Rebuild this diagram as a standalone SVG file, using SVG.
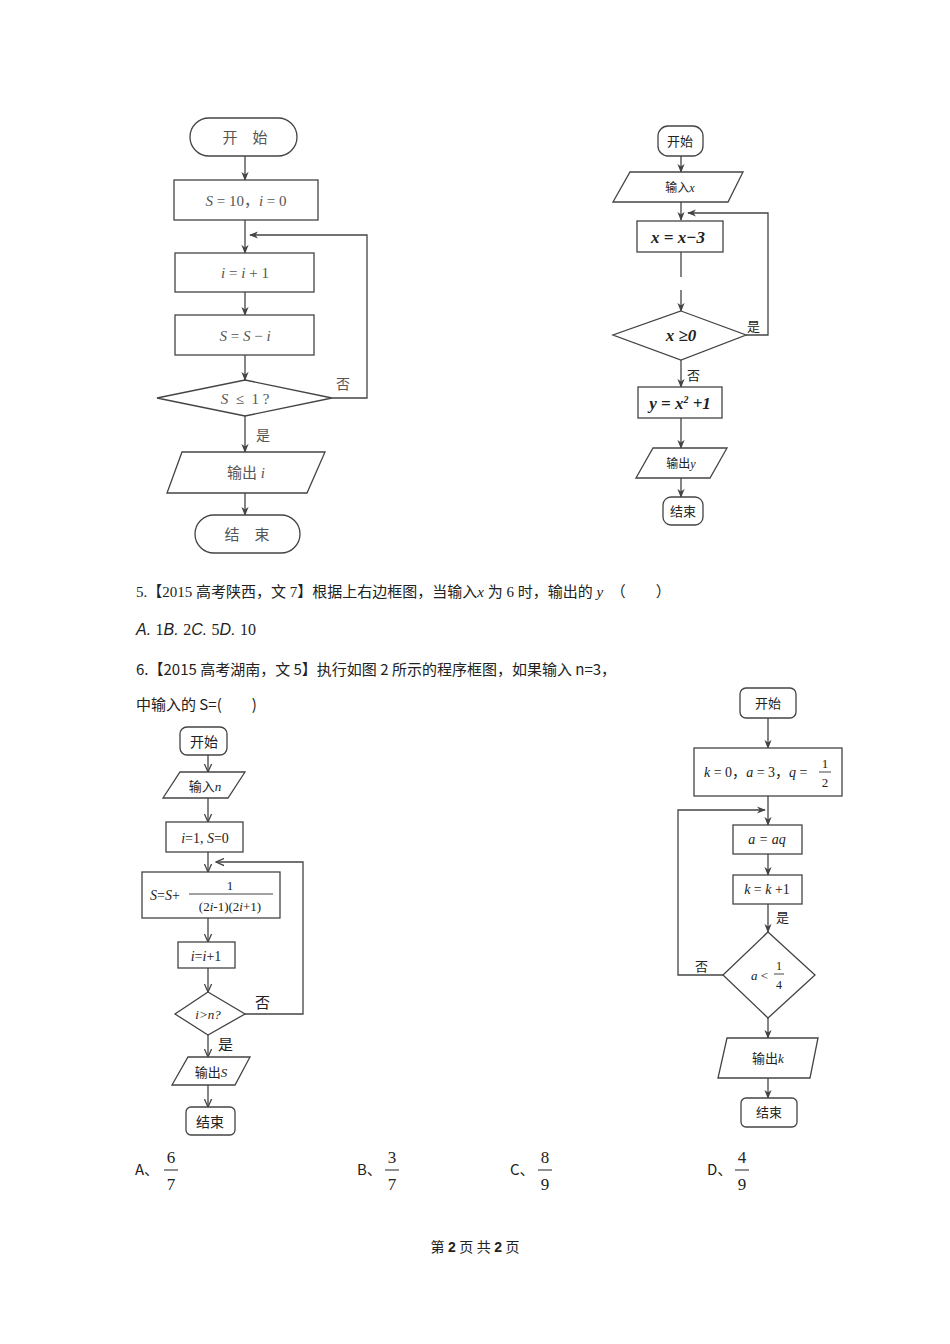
<svg xmlns="http://www.w3.org/2000/svg" width="950" height="1344" viewBox="0 0 950 1344">
<style>
.s{fill:#fff;stroke:#444;stroke-width:1.3}
.c{fill:none;stroke:#444;stroke-width:1.3}
text{font-family:"Liberation Serif","Noto Sans CJK SC",serif;fill:#222}
.k{font-family:"Noto Sans CJK SC",sans-serif}
.g{fill:#555}
.m{font-style:italic}
.b{font-weight:bold}
.t{text-anchor:middle}
</style>
<defs>
<marker id="a" viewBox="0 0 10 10" refX="9" refY="5" markerWidth="9" markerHeight="9" orient="auto" markerUnits="userSpaceOnUse"><path d="M0,1 L10,5 L0,9 L3,5 Z" fill="#444"/></marker>
<marker id="v" viewBox="0 0 10 10" refX="9" refY="5" markerWidth="9" markerHeight="9" orient="auto" markerUnits="userSpaceOnUse"><path d="M0,1 L9,5 L0,9" fill="none" stroke="#444" stroke-width="1.4"/></marker>
</defs>

<g id="connectors">
<path class="c" marker-end="url(#a)" d="M245,156V180"/>
<path class="c" marker-end="url(#a)" d="M245,220V253"/>
<path class="c" marker-end="url(#a)" d="M245,292V315"/>
<path class="c" marker-end="url(#a)" d="M245,355V380"/>
<path class="c" marker-end="url(#a)" d="M332,398H367V235H250"/>
<path class="c" marker-end="url(#a)" d="M245,416V452"/>
<path class="c" marker-end="url(#a)" d="M245,493V515"/>

<path class="c" marker-end="url(#a)" d="M681,156V172"/>
<path class="c" marker-end="url(#a)" d="M681,202V220"/>
<path class="c" marker-end="url(#a)" d="M746,335H768V213H688"/>
<path class="c" d="M681,252V277"/>
<path class="c" marker-end="url(#a)" d="M681,290V311"/>
<path class="c" marker-end="url(#a)" d="M681,360V387"/>
<path class="c" marker-end="url(#a)" d="M681,418V448"/>
<path class="c" marker-end="url(#a)" d="M681,478V497"/>

<path class="c" marker-end="url(#v)" d="M208,755V772"/>
<path class="c" marker-end="url(#v)" d="M208,798V822"/>
<path class="c" marker-end="url(#v)" d="M208,852V872"/>
<path class="c" marker-end="url(#v)" d="M245,1014H303V862H216"/>
<path class="c" marker-end="url(#v)" d="M208,918V942"/>
<path class="c" marker-end="url(#v)" d="M208,968V992"/>
<path class="c" marker-end="url(#v)" d="M208,1035V1057"/>
<path class="c" marker-end="url(#v)" d="M208,1085V1107"/>

<path class="c" marker-end="url(#a)" d="M768,718V748"/>
<path class="c" marker-end="url(#a)" d="M768,796V825"/>
<path class="c" marker-end="url(#a)" d="M723,975H678V810H765"/>
<path class="c" marker-end="url(#a)" d="M768,854V875"/>
<path class="c" marker-end="url(#a)" d="M768,904V932"/>
<path class="c" marker-end="url(#a)" d="M768,1018V1038"/>
<path class="c" marker-end="url(#a)" d="M768,1078V1098"/>
</g>

<g id="c1-start"><rect class="s" x="190" y="118" width="107" height="38" rx="19"/><text class="t g" x="245" y="143" font-size="15">开　始</text></g>
<g id="c1-init"><rect class="s" x="174" y="180" width="144" height="40"/><text class="t g" x="246" y="206" font-size="15"><tspan class="m">S</tspan> = 10，<tspan class="m">i</tspan> = 0</text></g>
<g id="c1-inc"><rect class="s" x="175" y="253" width="139" height="39"/><text class="t g" x="245" y="278" font-size="15"><tspan class="m">i</tspan> = <tspan class="m">i</tspan> + 1</text></g>
<g id="c1-sub"><rect class="s" x="175" y="315" width="139" height="40"/><text class="t g" x="245" y="341" font-size="15"><tspan class="m">S</tspan> = <tspan class="m">S</tspan> − <tspan class="m">i</tspan></text></g>
<g id="c1-cond"><polygon class="s" points="245,380 332,398 245,416 157,398"/><text class="t g" x="245" y="404" font-size="15"><tspan class="m">S</tspan>&#160;&#160;≤&#160;&#160;1&#160;?</text><text class="g" x="336" y="389" font-size="14">否</text></g>
<text class="g" x="256" y="440" font-size="14">是</text>
<g id="c1-out"><polygon class="s" points="182,452 325,452 307,493 167,493"/><text class="t g" x="246" y="478" font-size="15">输出&#160;<tspan class="m">i</tspan></text></g>
<g id="c1-end"><rect class="s" x="195" y="515" width="105" height="38" rx="19"/><text class="t g" x="247" y="540" font-size="15">结　束</text></g>

<g id="c2-start"><rect class="s" x="658" y="126" width="45" height="30" rx="10"/><text class="t k" x="680" y="146" font-size="13">开始</text></g>
<g id="c2-in"><polygon class="s" points="630,172 743,172 728,202 613,202"/><text class="t k" x="680" y="192" font-size="12">输入<tspan class="m" font-family="Liberation Serif">x</tspan></text></g>
<g id="c2-sub"><rect class="s" x="637" y="221" width="86" height="31"/><text class="t b m" x="678" y="243" font-size="17">x = x−3</text></g>
<g id="c2-cond"><polygon class="s" points="681,311 746,335 681,360 613,335"/><text class="t b m" x="681" y="341" font-size="17">x ≥0</text><text class="k" x="747" y="331" font-size="13">是</text></g>
<text class="k" x="687" y="380" font-size="13">否</text>
<g id="c2-y"><rect class="s" x="638" y="387" width="84" height="31"/><text class="t b m" x="680" y="409" font-size="17">y = x<tspan font-size="10" dy="-6">2</tspan><tspan dy="6"> +1</tspan></text></g>
<g id="c2-out"><polygon class="s" points="653,448 727,448 710,478 636,478"/><text class="t k" x="681" y="468" font-size="12">输出<tspan class="m" font-family="Liberation Serif">y</tspan></text></g>
<g id="c2-end"><rect class="s" x="663" y="497" width="40" height="28" rx="8"/><text class="t k" x="683" y="516" font-size="13">结束</text></g>

<text x="136" y="597" font-size="15">5.【2015 高考陕西，文 7】根据上右边框图，当输入<tspan class="m">x</tspan> 为 6 时，输出的 <tspan class="m">y</tspan>　（　　）</text>
<text x="136" y="635" font-size="16"><tspan class="m" font-family="Liberation Sans">A.&#160;</tspan>1<tspan class="m" font-family="Liberation Sans">B.&#160;</tspan>2<tspan class="m" font-family="Liberation Sans">C.&#160;</tspan>5<tspan class="m" font-family="Liberation Sans">D.&#160;</tspan>10</text>
<text class="k" x="136" y="675" font-size="15">6.【2015 高考湖南，文 5】执行如图 2 所示的程序框图，如果输入 n=3，</text>
<text class="k" x="136" y="710" font-size="15">中输入的 S=(　　)</text>

<g id="c3-start"><rect class="s" x="180" y="727" width="47" height="28" rx="7"/><text class="t k" x="204" y="747" font-size="14">开始</text></g>
<g id="c3-in"><polygon class="s" points="180,772 245,772 228,798 163,798"/><text class="t k" x="205" y="791" font-size="13">输入<tspan class="m" font-family="Liberation Serif">n</tspan></text></g>
<g id="c3-init"><rect class="s" x="166" y="822" width="77" height="30"/><text class="t" x="205" y="843" font-size="14"><tspan class="m">i</tspan>=1, <tspan class="m">S</tspan>=0</text></g>
<g id="c3-sum"><rect class="s" x="142" y="872" width="138" height="46"/><text x="150" y="900" font-size="14"><tspan class="m">S</tspan>=<tspan class="m">S</tspan>+</text><text class="t" x="230" y="890" font-size="13">1</text><line x1="189" y1="894" x2="273" y2="894" stroke="#444"/><text class="t" x="230" y="911" font-size="13">(2<tspan class="m">i</tspan>-1)(2<tspan class="m">i</tspan>+1)</text></g>
<g id="c3-inc"><rect class="s" x="178" y="942" width="57" height="26"/><text class="t" x="206" y="961" font-size="14"><tspan class="m">i</tspan>=<tspan class="m">i</tspan>+1</text></g>
<g id="c3-cond"><polygon class="s" points="208,992 245,1014 208,1035 175,1014"/><text class="t m" x="208" y="1019" font-size="13">i&gt;n?</text><text class="k" x="255" y="1008" font-size="15">否</text></g>
<text class="k" x="218" y="1050" font-size="15">是</text>
<g id="c3-out"><polygon class="s" points="188,1057 250,1057 235,1085 172,1085"/><text class="t k" x="211" y="1077" font-size="13">输出<tspan class="m" font-family="Liberation Serif">S</tspan></text></g>
<g id="c3-end"><rect class="s" x="186" y="1107" width="49" height="28" rx="5"/><text class="t k" x="210" y="1127" font-size="14">结束</text></g>

<g id="c4-start"><rect class="s" x="740" y="688" width="56" height="30" rx="6"/><text class="t k" x="768" y="708" font-size="13">开始</text></g>
<g id="c4-init"><rect class="s" x="694" y="748" width="148" height="48"/><text x="704" y="777" font-size="14"><tspan class="m">k</tspan> = 0，<tspan class="m">a</tspan> = 3，<tspan class="m">q</tspan> =</text><text class="t" x="825" y="768" font-size="13">1</text><line x1="819" y1="772" x2="831" y2="772" stroke="#444"/><text class="t" x="825" y="787" font-size="13">2</text></g>
<g id="c4-a"><rect class="s" x="733" y="825" width="69" height="29"/><text class="t m" x="767" y="844" font-size="14">a = aq</text></g>
<g id="c4-k"><rect class="s" x="733" y="875" width="69" height="29"/><text class="t" x="767" y="894" font-size="14"><tspan class="m">k</tspan> = <tspan class="m">k</tspan> +1</text></g>
<text class="k" x="776" y="922" font-size="13">是</text>
<g id="c4-cond"><polygon class="s" points="768,932 815,975 768,1018 723,975"/><text x="751" y="980" font-size="13"><tspan class="m">a</tspan> &lt;</text><text class="t" x="779" y="970" font-size="12">1</text><line x1="774" y1="974" x2="784" y2="974" stroke="#444"/><text class="t" x="779" y="989" font-size="12">4</text><text class="k" x="695" y="971" font-size="13">否</text></g>
<g id="c4-out"><polygon class="s" points="727,1038 818,1038 810,1078 718,1078"/><text class="t k" x="768" y="1063" font-size="13">输出<tspan class="m" font-family="Liberation Serif">k</tspan></text></g>
<g id="c4-end"><rect class="s" x="741" y="1098" width="56" height="29" rx="5"/><text class="t k" x="769" y="1117" font-size="13">结束</text></g>

<g font-size="15">
<text class="k" x="135" y="1175">A、</text><text class="t" x="171" y="1163" font-size="17">6</text><line x1="164" y1="1170" x2="178" y2="1170" stroke="#222"/><text class="t" x="171" y="1190" font-size="17">7</text>
<text class="k" x="357" y="1175">B、</text><text class="t" x="392" y="1163" font-size="17">3</text><line x1="385" y1="1170" x2="399" y2="1170" stroke="#222"/><text class="t" x="392" y="1190" font-size="17">7</text>
<text class="k" x="510" y="1175">C、</text><text class="t" x="545" y="1163" font-size="17">8</text><line x1="538" y1="1170" x2="552" y2="1170" stroke="#222"/><text class="t" x="545" y="1190" font-size="17">9</text>
<text class="k" x="707" y="1175">D、</text><text class="t" x="742" y="1163" font-size="17">4</text><line x1="735" y1="1170" x2="749" y2="1170" stroke="#222"/><text class="t" x="742" y="1190" font-size="17">9</text>
</g>
<text class="t" x="475" y="1252" font-size="14">第 <tspan font-family="Liberation Sans" font-weight="bold">2</tspan> 页 共 <tspan font-family="Liberation Sans" font-weight="bold">2</tspan> 页</text>
</svg>
